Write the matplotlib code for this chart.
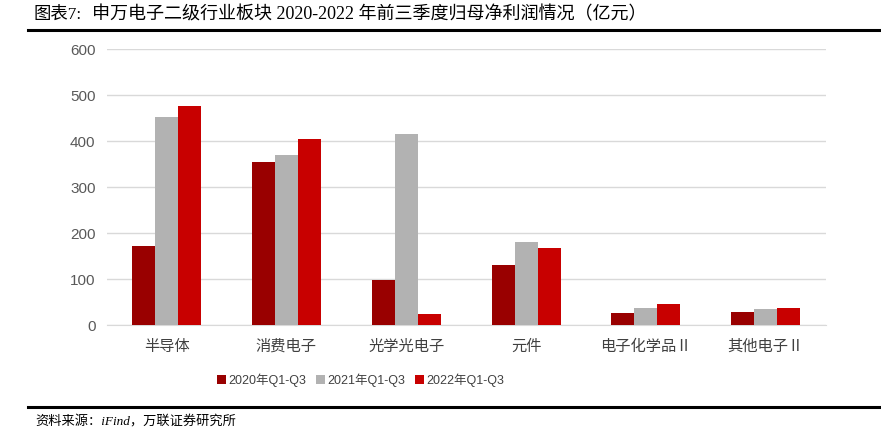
import matplotlib.pyplot as plt
import numpy as np

categories = ['半导体', '消费电子', '光学光电子', '元件', '电子化学品Ⅱ', '其他电子Ⅱ']
series_names = ['2020年Q1-Q3', '2021年Q1-Q3', '2022年Q1-Q3']
v2020 = [172, 354, 99, 132, 27, 30]
v2021 = [453, 371, 415, 181, 37, 35]
v2022 = [476, 406, 25, 168, 46, 37]
colors = ['#990000', '#b2b2b2', '#c80000']

cjk = ['Noto Sans CJK SC', 'DejaVu Sans']
plt.rcParams['font.family'] = cjk

fig = plt.figure(figsize=(8.81, 4.36), dpi=100)
ax = fig.add_axes([0.1211, 0.2539, 0.8161, 0.633])

x = np.arange(len(categories))
w = 0.192
for i, (vals, name) in enumerate(zip([v2020, v2021, v2022], series_names)):
    ax.bar(x + (i - 1) * w, vals, width=w, color=colors[i], label=name, zorder=3)

ax.set_xlim(-0.5, len(categories) - 0.5)
ax.set_ylim(0, 600)
ax.set_yticks(range(0, 601, 100))
ax.yaxis.grid(True, color='#d9d9d9', linewidth=1, zorder=0)
for s in ['top', 'right', 'left']:
    ax.spines[s].set_visible(False)
ax.spines['bottom'].set_color('#d9d9d9')
ax.tick_params(axis='both', length=0)
ax.tick_params(axis='y', labelcolor='#595959', pad=8)
ax.tick_params(axis='x', labelcolor='#404040', pad=9)
for lab in ax.get_yticklabels():
    lab.set_fontfamily(['Liberation Sans', 'DejaVu Sans'])
    lab.set_fontsize(11)
ax.set_xticks(x)
ax.set_xticklabels(categories, fontsize=11)

leg = fig.legend(loc='center', bbox_to_anchor=(0.409, 0.128), ncol=3, frameon=False,
                 handlelength=0.75, handleheight=0.75, handletextpad=0.15, columnspacing=0.8,
                 prop={'family': ['Liberation Sans', 'Noto Sans CJK SC'], 'size': 9})
for t in leg.get_texts():
    t.set_color('#404040')

# title and frame lines
fig.text(0.038, 0.967, '图表7:', fontsize=12.5, va='center',
         family=['Liberation Serif', 'Noto Sans CJK SC'])
fig.text(0.104, 0.967, '申万电子二级行业板块 2020-2022 年前三季度归母净利润情况（亿元）',
         fontsize=13, va='center', family=['Liberation Serif', 'Noto Sans CJK SC'])
fig.add_artist(plt.Line2D([0.032, 1.0], [0.932, 0.932], color='black', linewidth=2.2,
                          transform=fig.transFigure))
fig.add_artist(plt.Line2D([0.032, 1.0], [0.067, 0.067], color='black', linewidth=2.2,
                          transform=fig.transFigure))
fig.text(0.04, 0.033, '资料来源：iFind，万联证券研究所', fontsize=9.5, va='center',
         style='italic', family=['Liberation Serif', 'Noto Sans CJK SC'])

fig.savefig('out.png', dpi=100)
